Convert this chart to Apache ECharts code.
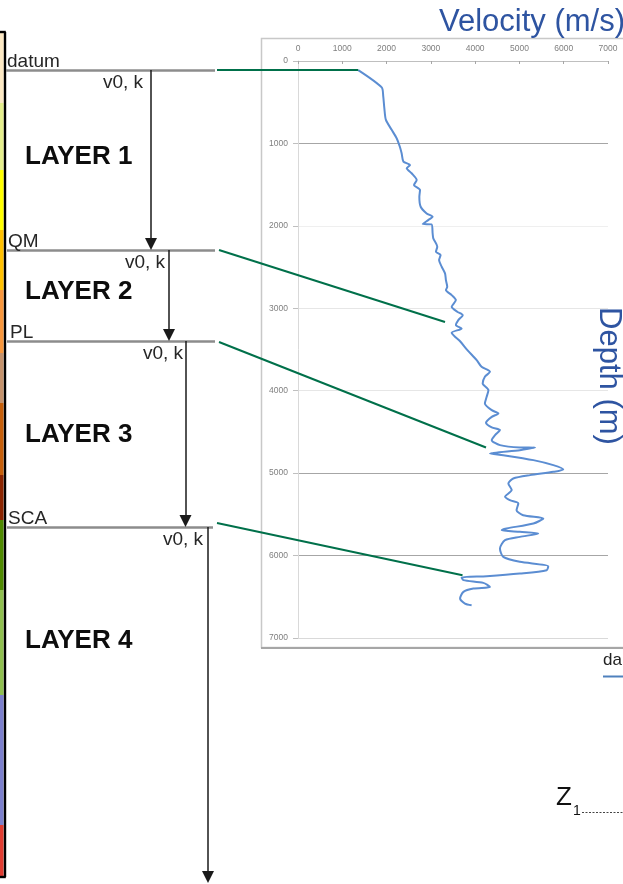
<!DOCTYPE html>
<html><head><meta charset="utf-8">
<script src="https://cdn.jsdelivr.net/npm/echarts@6/dist/echarts.min.js"></script>
<style>html,body{margin:0;padding:0;background:#fff}#c{width:623px;height:884px}</style>
</head><body><div id="c"></div>
<script>
// ---------------- data ----------------
const velocityTicks = [0, 1000, 2000, 3000, 4000, 5000, 6000, 7000];
const depthTicks = [0, 1000, 2000, 3000, 4000, 5000, 6000, 7000];

const logVelocity = [1360,1890,1925,1950,1985,2115,2230,2300,2340,2380,2530,2455,2565,2680,2620,2755,2740,2770,2905,3040,2940,2816,3015,3040,3055,3145,3115,3220,3185,3245,3320,3340,3370,3340,3470,3565,3470,3595,3720,3620,3565,3695,3470,3545,3660,3820,4035,4145,4335,4220,4170,4300,4260,4220,4375,4525,4375,4245,4375,4560,4450,4375,4560,5010,5350,5010,4335,4635,5315,5765,5990,5765,5240,4860,4750,4825,4675,4785,4975,4935,5085,5540,5315,4710,4600,5010,5425,5010,4675,4560,4635,5010,5650,5615,5010,4260,3695,3735,4185,4335,3960,3735,3660,3770,3920];
const logDepth = [110,320,430,575,715,835,940,1040,1120,1220,1262,1302,1362,1444,1505,1566,1647,1768,1849,1890,1930,1978,1982,2091,2152,2253,2314,2354,2415,2496,2577,2658,2739,2779,2840,2900,2982,3042,3083,3143,3204,3244,3297,3346,3400,3505,3629,3710,3771,3831,3912,3993,4074,4155,4236,4276,4317,4390,4446,4478,4539,4600,4660,4688,4690,4721,4761,4782,4842,4903,4955,4984,5024,5065,5125,5206,5287,5328,5368,5449,5510,5550,5611,5671,5692,5712,5732,5773,5813,5914,6016,6076,6129,6177,6218,6250,6266,6298,6331,6380,6400,6440,6521,6582,6602];

const horizonNames = ['datum', 'QM', 'PL', 'SCA'];
const layerNames = ['LAYER 1', 'LAYER 2', 'LAYER 3', 'LAYER 4'];
const paramLabel = 'v0, k';
// where each horizon is tied onto the velocity log
const connectorVelocity = [1360, 3320, 4245, 3715];
const connectorDepth = [110, 3167, 4689, 6238];

const stratColors = ['#fce8c3','#e4ee8c','#ffff00','#ffc000','#f7963c','#c4926c','#c65f0a','#8b2500','#4f8a00','#8fbf4f','#7b7fcc','#e03c31'];

// ---------------- schematic layout (diagram units) ----------------
const SCH = {
  horizonY: [70, 250, 341, 527],
  horizonX0: [6, 7, 7, 7],
  horizonX1: [215, 215, 215, 213],
  nameX: [7, 8, 10, 8],
  paramRight: [143, 165, 183, 203],
  arrowX: [151, 169, 185.5, 208],
  arrowEnd: [244, 335, 521, 877],
  layerY: [157, 292, 435, 641],
  layerX: 25,
  connX: [217, 219, 219, 217],
  connY: [70, 250, 342, 523],
  stratBreaks: [32,103,170,230,290,353,403,475,520,590,695,825,877],
  stratWidth: 3.6
};

const FONT = '"Liberation Sans", Arial, sans-serif';

function textSeries(items, font, color, align, vAlign) {
  return {
    type: 'custom', xAxisIndex: 1, yAxisIndex: 1, silent: true, clip: false, z: 5,
    data: items.map(it => [it.x, it.y]),
    renderItem: (p, api) => {
      const pt = api.coord([api.value(0), api.value(1)]);
      return { type: 'text', x: pt[0], y: pt[1],
        style: { text: items[p.dataIndex].text, font: font, fill: color, align: align, verticalAlign: vAlign } };
    }
  };
}

const chart = echarts.init(document.getElementById('c'), null, { renderer: 'canvas' });

const yGridColors = ['#bfbfbf', '#a6a6a6', '#efefef', '#e6e6e6', '#e6e6e6', '#a6a6a6', '#a6a6a6', '#d9d9d9'];
const plain = v => String(v);

const option = {
  animation: false,
  backgroundColor: '#fff',
  title: {
    text: 'Velocity (m/s)', left: 434, top: 2,
    textStyle: { color: '#2e54a1', fontSize: 31, fontWeight: 'normal', fontFamily: FONT }
  },
  grid: [
    { left: 298, top: 61, width: 310, height: 577, containLabel: false },
    { left: 0, top: 0, width: 623, height: 884 }
  ],
  xAxis: [
    {
      gridIndex: 0, type: 'value', position: 'top',
      min: velocityTicks[0], max: velocityTicks[velocityTicks.length - 1],
      interval: velocityTicks[1] - velocityTicks[0],
      axisLine: { show: true, lineStyle: { color: '#bfbfbf', width: 1 } },
      axisTick: { show: true, inside: true, length: 3, lineStyle: { color: '#a6a6a6' } },
      axisLabel: { color: '#7f7f7f', fontSize: 8.5, fontFamily: FONT, margin: 8, formatter: plain },
      splitLine: { show: false }
    },
    { gridIndex: 1, type: 'value', min: 0, max: 623, show: false }
  ],
  yAxis: [
    {
      gridIndex: 0, type: 'value', inverse: true,
      min: depthTicks[0], max: depthTicks[depthTicks.length - 1],
      interval: depthTicks[1] - depthTicks[0],
      axisLine: { show: true, lineStyle: { color: '#d9d9d9', width: 1 } },
      axisTick: { show: true, length: 5, lineStyle: { color: '#bfbfbf' } },
      axisLabel: { color: '#7f7f7f', fontSize: 8.5, fontFamily: FONT, margin: 10, formatter: plain },
      splitLine: { show: true, lineStyle: { color: yGridColors, width: 1 } }
    },
    { gridIndex: 1, type: 'value', min: 0, max: 884, inverse: true, show: false }
  ],
  graphic: [
    { type: 'rect', z: 0, shape: { x: 261.5, y: 38.5, width: 420, height: 609 },
      style: { fill: 'none', stroke: '#c8c8c8', lineWidth: 1.5 } },
    { type: 'line', z: 0, shape: { x1: 261, y1: 648, x2: 623, y2: 648 },
      style: { stroke: '#a6a6a6', lineWidth: 2 } },
    { type: 'text', x: 609, y: 376, rotation: -Math.PI / 2,
      style: { text: 'Depth (m)', font: '31px ' + FONT, fill: '#2e54a1', align: 'center', verticalAlign: 'middle' } },
    { type: 'text', x: 603, y: 652,
      style: { text: 'da', font: '17px ' + FONT, fill: '#222', align: 'left', verticalAlign: 'top' } },
    { type: 'line', shape: { x1: 603, y1: 676.5, x2: 623, y2: 676.5 },
      style: { stroke: '#4f81bd', lineWidth: 2 } },
    { type: 'text', x: 556, y: 811,
      style: { text: 'Z', font: '26px ' + FONT, fill: '#111', align: 'left', verticalAlign: 'bottom' } },
    { type: 'text', x: 573, y: 818,
      style: { text: '1', font: '14px ' + FONT, fill: '#111', align: 'left', verticalAlign: 'bottom' } },
    { type: 'line', shape: { x1: 582, y1: 812.5, x2: 623, y2: 812.5 },
      style: { stroke: '#444', lineWidth: 1, lineDash: [2, 1.5] } }
  ],
  series: [
    // velocity log
    {
      type: 'line', xAxisIndex: 0, yAxisIndex: 0,
      data: logVelocity.map((v, i) => [v, logDepth[i]]),
      showSymbol: false, symbol: 'none', smooth: 0.25,
      lineStyle: { color: '#5b8dd2', width: 2 }, z: 3, silent: true
    },
    // stratigraphic colour column
    {
      type: 'custom', xAxisIndex: 1, yAxisIndex: 1, silent: true, z: 1,
      data: stratColors.map((c, i) => [SCH.stratBreaks[i], SCH.stratBreaks[i + 1]]),
      renderItem: (p, api) => {
        const a = api.coord([0, api.value(0)]);
        const b = api.coord([SCH.stratWidth, api.value(1)]);
        return { type: 'rect', shape: { x: a[0], y: a[1], width: b[0] - a[0], height: b[1] - a[1] },
          style: { fill: stratColors[p.dataIndex] } };
      }
    },
    // column frame
    {
      type: 'lines', coordinateSystem: 'cartesian2d', xAxisIndex: 1, yAxisIndex: 1, silent: true, z: 2,
      data: [
        { coords: [[4.6, SCH.stratBreaks[0]], [4.6, SCH.stratBreaks[SCH.stratBreaks.length - 1]]] },
        { coords: [[0, SCH.stratBreaks[0]], [5.8, SCH.stratBreaks[0]]] },
        { coords: [[0, SCH.stratBreaks[SCH.stratBreaks.length - 1]], [5.8, SCH.stratBreaks[SCH.stratBreaks.length - 1]]] }
      ],
      lineStyle: { color: '#000', width: 2.4, opacity: 1 }
    },
    // horizon lines
    {
      type: 'lines', coordinateSystem: 'cartesian2d', xAxisIndex: 1, yAxisIndex: 1, silent: true, z: 2,
      data: horizonNames.map((n, i) => ({ coords: [[SCH.horizonX0[i], SCH.horizonY[i]], [SCH.horizonX1[i], SCH.horizonY[i]]] })),
      lineStyle: { color: '#8c8c8c', width: 2.5, opacity: 1 }
    },
    // layer arrows
    {
      type: 'lines', coordinateSystem: 'cartesian2d', xAxisIndex: 1, yAxisIndex: 1, silent: true, z: 3,
      symbol: ['none', 'triangle'], symbolSize: 12,
      data: layerNames.map((n, i) => ({ coords: [[SCH.arrowX[i], SCH.horizonY[i]], [SCH.arrowX[i], SCH.arrowEnd[i]]] })),
      lineStyle: { color: '#1a1a1a', width: 1.5, opacity: 1 },
      itemStyle: { color: '#000' }
    },
    // connectors (filled in after layout)
    {
      id: 'connectors', type: 'lines', coordinateSystem: 'cartesian2d', xAxisIndex: 1, yAxisIndex: 1,
      silent: true, z: 4, clip: false, data: [],
      lineStyle: { color: '#00704a', width: 2, opacity: 1 }
    },
    textSeries(horizonNames.map((n, i) => ({ x: SCH.nameX[i], y: SCH.horizonY[i] + 1, text: n })),
      '19px ' + FONT, '#262626', 'left', 'bottom'),
    textSeries(horizonNames.map((n, i) => ({ x: SCH.paramRight[i], y: SCH.horizonY[i] + 3, text: paramLabel })),
      '19px ' + FONT, '#262626', 'right', 'top'),
    textSeries(layerNames.map((n, i) => ({ x: SCH.layerX, y: SCH.layerY[i], text: n })),
      'bold 26px ' + FONT, '#0d0d0d', 'left', 'middle')
  ]
};

chart.setOption(option);

const connData = connectorVelocity.map((v, i) => {
  const px = chart.convertToPixel({ gridIndex: 0 }, [v, connectorDepth[i]]);
  const end = chart.convertFromPixel({ gridIndex: 1 }, px);
  return { coords: [[SCH.connX[i], SCH.connY[i]], end] };
});
chart.setOption({ series: [{ id: 'connectors', data: connData }] });
</script>
</body></html>
